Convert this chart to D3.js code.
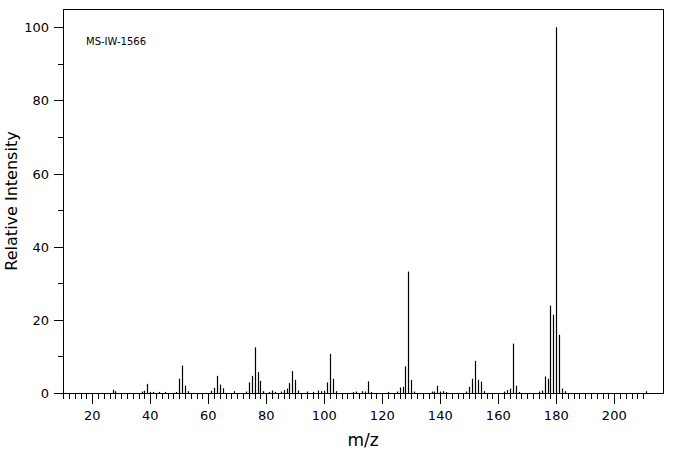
<!DOCTYPE html>
<html lang="en">
<head>
<meta charset="UTF-8">
<title>MS-IW-1566</title>
<script src="https://cdn.jsdelivr.net/npm/d3@7"></script>
<style>
  body { margin: 0; background: #fff; }
  text { font-family: "DejaVu Sans", sans-serif; fill: #000; }
</style>
</head>
<body>
<div id="chart"></div>
<script>
// m/z and relative intensity
const mz = [27, 28, 37, 38, 39, 40, 41, 43, 45, 49, 50, 51, 52, 53,
  61, 62, 63, 64, 65, 69, 73, 74, 75, 76, 77, 78, 79, 81, 82, 83, 85, 86, 87, 88, 89, 90, 91,
  94, 96, 98, 99, 100, 101, 102, 103, 104, 110, 111, 113, 114, 115, 116,
  122, 125, 126, 127, 128, 129, 130, 131, 137, 138, 139, 140, 141, 142,
  149, 150, 151, 152, 153, 154, 155, 162, 163, 164, 165, 166, 167,
  174, 175, 176, 177, 178, 179, 180, 181, 182, 183, 211];
const intensity = [0.9, 0.5, 0.4, 0.6, 2.5, 0.3, 0.3, 0.3, 0.3, 0.3, 3.9, 7.5, 2.0, 0.5,
  0.6, 1.4, 4.7, 2.3, 1.3, 0.5, 0.4, 2.9, 4.7, 12.5, 5.7, 3.3, 0.5, 0.3, 0.7, 0.3, 0.4, 0.8, 1.2, 2.7, 6.0, 3.6, 0.7,
  0.4, 0.3, 0.7, 0.5, 0.6, 2.9, 10.7, 3.9, 0.5, 0.3, 0.4, 0.5, 0.4, 3.2, 0.3,
  0.3, 0.4, 1.5, 1.7, 7.3, 33.2, 3.6, 0.4, 0.4, 0.4, 2.0, 0.4, 0.5, 0.3,
  0.4, 1.7, 3.9, 8.8, 3.6, 3.1, 0.5, 0.4, 0.8, 1.2, 13.5, 2.0, 0.3,
  0.4, 0.7, 4.5, 3.9, 23.9, 21.4, 100, 15.9, 1.2, 0.5, 0.5];
const xMajor = [20, 40, 60, 80, 100, 120, 140, 160, 180, 200];
const yMajor = [0, 20, 40, 60, 80, 100];

const W = 676, H = 455;
const m = { left: 63, right: 13, top: 9, bottom: 62 };

const svg = d3.select("#chart").append("svg")
  .attr("width", W).attr("height", H);

const x = d3.scaleLinear().domain([9.9, 216.8]).range([m.left, W - m.right]);
const y = d3.scaleLinear().domain([0, 105]).range([H - m.bottom, m.top]);

// frame
svg.append("rect")
  .attr("x", m.left + 0.5).attr("y", m.top + 0.5)
  .attr("width", W - m.right - m.left).attr("height", H - m.bottom - m.top)
  .attr("fill", "none").attr("stroke", "#000");

// x axis: minor ticks every 2, long ticks every 20
const xTicks = d3.range(10, 211, 2);
svg.append("g").selectAll("line").data(xTicks).join("line")
  .attr("x1", d => Math.round(x(d)) + 0.5).attr("x2", d => Math.round(x(d)) + 0.5)
  .attr("y1", y(0)).attr("y2", d => y(0) + (d % 20 === 0 ? 11 : 6))
  .attr("stroke", "#000");
svg.append("g").selectAll("text").data(xMajor).join("text")
  .attr("x", d => x(d)).attr("y", y(0) + 27)
  .attr("text-anchor", "middle").attr("font-size", 13)
  .text(d => d);

// y axis: minor ticks every 10
const yTicks = d3.range(0, 101, 10);
svg.append("g").selectAll("line").data(yTicks).join("line")
  .attr("x1", m.left).attr("x2", d => m.left - (d % 20 === 0 ? 9 : 5))
  .attr("y1", d => Math.round(y(d)) + 0.5).attr("y2", d => Math.round(y(d)) + 0.5)
  .attr("stroke", "#000");
svg.append("g").selectAll("text").data(yMajor).join("text")
  .attr("x", m.left - 14).attr("y", d => y(d) + 5)
  .attr("text-anchor", "end").attr("font-size", 13)
  .text(d => d);

// peaks
svg.append("g").selectAll("line").data(mz).join("line")
  .attr("x1", d => Math.round(x(d)) + 0.5).attr("x2", d => Math.round(x(d)) + 0.5)
  .attr("y1", y(0)).attr("y2", (d, i) => y(intensity[i]))
  .attr("stroke", "#000").attr("stroke-width", 1.2);

// titles
svg.append("text").attr("x", (m.left + W - m.right) / 2).attr("y", 446)
  .attr("text-anchor", "middle").attr("font-size", 17).text("m/z");
svg.append("text")
  .attr("transform", `translate(17,${(m.top + H - m.bottom) / 2}) rotate(-90)`)
  .attr("text-anchor", "middle").attr("font-size", 16).text("Relative Intensity");
svg.append("text").attr("x", 86).attr("y", 45)
  .attr("font-family", "DejaVu Sans Mono").attr("font-size", 10).text("MS-IW-1566");
</script>
</body>
</html>
